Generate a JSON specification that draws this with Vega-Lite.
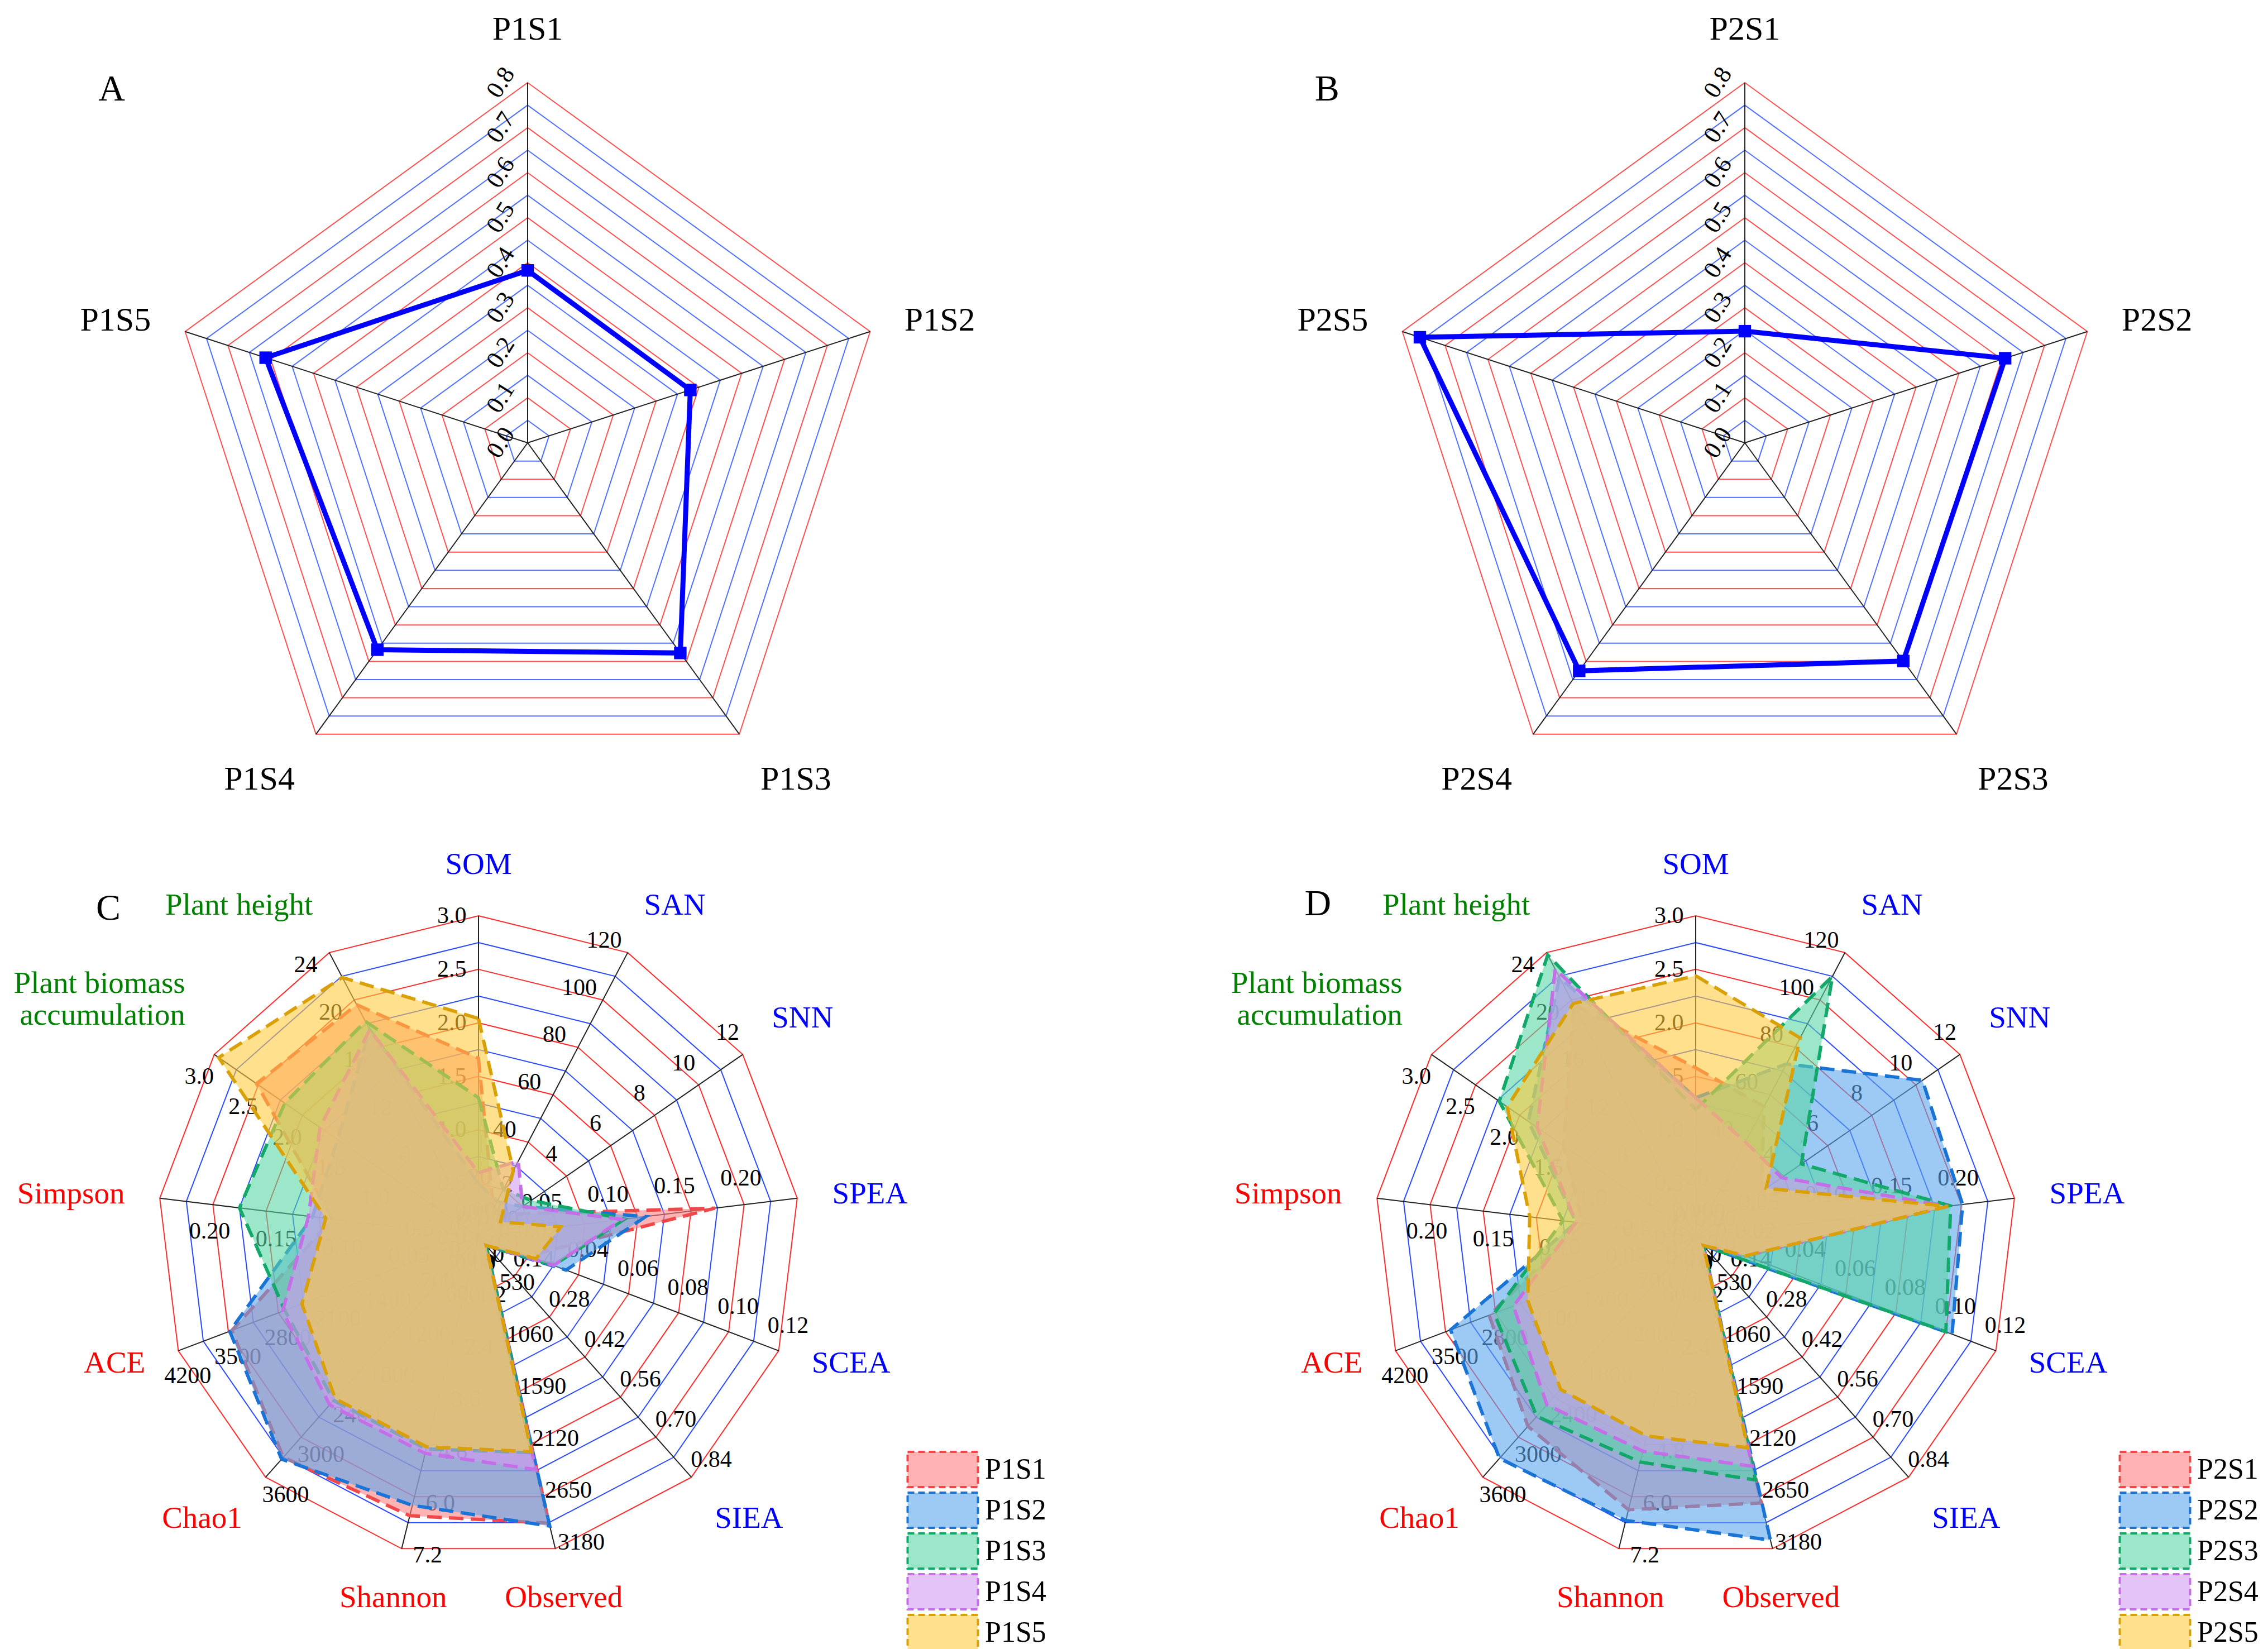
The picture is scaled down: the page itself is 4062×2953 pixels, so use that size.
{
"$schema":"https://vega.github.io/schema/vega-lite/v6.json",
"background":"white",
"padding":0,
"config":{"view":{"stroke":null},"text":{"font":"Liberation Serif"},"legend":{"labelFont":"Liberation Serif"}},
"datasets":{
"ringsPent":[{"lev":0.05,"k":[0,1,2,3,4]},{"lev":0.1,"k":[0,1,2,3,4]},{"lev":0.15,"k":[0,1,2,3,4]},{"lev":0.2,"k":[0,1,2,3,4]},{"lev":0.25,"k":[0,1,2,3,4]},{"lev":0.3,"k":[0,1,2,3,4]},{"lev":0.35,"k":[0,1,2,3,4]},{"lev":0.4,"k":[0,1,2,3,4]},{"lev":0.45,"k":[0,1,2,3,4]},{"lev":0.5,"k":[0,1,2,3,4]},{"lev":0.55,"k":[0,1,2,3,4]},{"lev":0.6,"k":[0,1,2,3,4]},{"lev":0.65,"k":[0,1,2,3,4]},{"lev":0.7,"k":[0,1,2,3,4]},{"lev":0.75,"k":[0,1,2,3,4]},{"lev":0.8,"k":[0,1,2,3,4]}],
"ticksPent":[{"v":0,"t":"0.0"},{"v":0.1,"t":"0.1"},{"v":0.2,"t":"0.2"},{"v":0.3,"t":"0.3"},{"v":0.4,"t":"0.4"},{"v":0.5,"t":"0.5"},{"v":0.6,"t":"0.6"},{"v":0.7,"t":"0.7"},{"v":0.8,"t":"0.8"}],
"A":[{"name":"P1S1","k":0,"value":0.383},{"name":"P1S2","k":1,"value":0.38},{"name":"P1S3","k":2,"value":0.577},{"name":"P1S4","k":3,"value":0.568},{"name":"P1S5","k":4,"value":0.612}],
"B":[{"name":"P2S1","k":0,"value":0.248},{"name":"P2S2","k":1,"value":0.608},{"name":"P2S3","k":2,"value":0.599},{"name":"P2S4","k":3,"value":0.626},{"name":"P2S5","k":4,"value":0.759}],
"ringsC":[{"j":1,"k":[0,1,2,3,4,5,6,7,8,9,10,11,12]},{"j":2,"k":[0,1,2,3,4,5,6,7,8,9,10,11,12]},{"j":3,"k":[0,1,2,3,4,5,6,7,8,9,10,11,12]},{"j":4,"k":[0,1,2,3,4,5,6,7,8,9,10,11,12]},{"j":5,"k":[0,1,2,3,4,5,6,7,8,9,10,11,12]},{"j":6,"k":[0,1,2,3,4,5,6,7,8,9,10,11,12]},{"j":7,"k":[0,1,2,3,4,5,6,7,8,9,10,11,12]},{"j":8,"k":[0,1,2,3,4,5,6,7,8,9,10,11,12]},{"j":9,"k":[0,1,2,3,4,5,6,7,8,9,10,11,12]},{"j":10,"k":[0,1,2,3,4,5,6,7,8,9,10,11,12]},{"j":11,"k":[0,1,2,3,4,5,6,7,8,9,10,11,12]},{"j":12,"k":[0,1,2,3,4,5,6,7,8,9,10,11,12]}],
"axesC":[
{"k":0,"name":"SOM","grp":"soil","max":3,"ticks":[0,0.5,1,1.5,2,2.5,3],"tl":["0.0","0.5","1.0","1.5","2.0","2.5","3.0"]},
{"k":1,"name":"SAN","grp":"soil","max":120,"ticks":[0,20,40,60,80,100,120],"tl":["0","20","40","60","80","100","120"]},
{"k":2,"name":"SNN","grp":"soil","max":12,"ticks":[0,2,4,6,8,10,12],"tl":["0","2","4","6","8","10","12"]},
{"k":3,"name":"SPEA","grp":"soil","max":0.24,"ticks":[0,0.05,0.1,0.15,0.2],"tl":["0.00","0.05","0.10","0.15","0.20"]},
{"k":4,"name":"SCEA","grp":"soil","max":0.12,"ticks":[0,0.02,0.04,0.06,0.08,0.1,0.12],"tl":["0.00","0.02","0.04","0.06","0.08","0.10","0.12"]},
{"k":5,"name":"SIEA","grp":"soil","max":0.84,"ticks":[0,0.14,0.28,0.42,0.56,0.7,0.84],"tl":["0.00","0.14","0.28","0.42","0.56","0.70","0.84"]},
{"k":6,"name":"Observed","grp":"micro","max":3180,"ticks":[0,530,1060,1590,2120,2650,3180],"tl":["0","530","1060","1590","2120","2650","3180"]},
{"k":7,"name":"Shannon","grp":"micro","max":7.2,"ticks":[0,1.2,2.4,3.6,4.8,6,7.2],"tl":["0.0","1.2","2.4","3.6","4.8","6.0","7.2"]},
{"k":8,"name":"Chao1","grp":"micro","max":3600,"ticks":[0,600,1200,1800,2400,3000,3600],"tl":["0","600","1200","1800","2400","3000","3600"]},
{"k":9,"name":"ACE","grp":"micro","max":4200,"ticks":[0,700,1400,2100,2800,3500,4200],"tl":["0","700","1400","2100","2800","3500","4200"]},
{"k":10,"name":"Simpson","grp":"micro","max":0.24,"ticks":[0,0.05,0.1,0.15,0.2],"tl":["0.00","0.05","0.10","0.15","0.20"]},
{"k":11,"name":"Plant biomass\naccumulation","grp":"plant","max":3,"ticks":[0,0.5,1,1.5,2,2.5,3],"tl":["0.0","0.5","1.0","1.5","2.0","2.5","3.0"]},
{"k":12,"name":"Plant height","grp":"plant","max":24,"ticks":[0,4,8,12,16,20,24],"tl":["0","4","8","12","16","20","24"]}],
"C":[
{"s":"P1S1","k":0,"v":1.67},{"s":"P1S1","k":1,"v":12},{"s":"P1S1","k":2,"v":1.5},{"s":"P1S1","k":3,"v":0.178},{"s":"P1S1","k":4,"v":0.02},{"s":"P1S1","k":5,"v":0.03},{"s":"P1S1","k":6,"v":2920},{"s":"P1S1","k":7,"v":6.44},{"s":"P1S1","k":8,"v":3300},{"s":"P1S1","k":9,"v":3450},{"s":"P1S1","k":10,"v":0.11},{"s":"P1S1","k":11,"v":2.52},{"s":"P1S1","k":12,"v":19.6},
{"s":"P1S2","k":0,"v":0.5},{"s":"P1S2","k":1,"v":15},{"s":"P1S2","k":2,"v":2.0},{"s":"P1S2","k":3,"v":0.126},{"s":"P1S2","k":4,"v":0.035},{"s":"P1S2","k":5,"v":0.03},{"s":"P1S2","k":6,"v":2950},{"s":"P1S2","k":7,"v":6.2},{"s":"P1S2","k":8,"v":3330},{"s":"P1S2","k":9,"v":3480},{"s":"P1S2","k":10,"v":0.125},{"s":"P1S2","k":11,"v":1.6},{"s":"P1S2","k":12,"v":17.5},
{"s":"P1S3","k":0,"v":1.3},{"s":"P1S3","k":1,"v":20},{"s":"P1S3","k":2,"v":2.4},{"s":"P1S3","k":3,"v":0.11},{"s":"P1S3","k":4,"v":0.03},{"s":"P1S3","k":5,"v":0.03},{"s":"P1S3","k":6,"v":2200},{"s":"P1S3","k":7,"v":4.9},{"s":"P1S3","k":8,"v":2450},{"s":"P1S3","k":9,"v":2710},{"s":"P1S3","k":10,"v":0.18},{"s":"P1S3","k":11,"v":2.2},{"s":"P1S3","k":12,"v":18.2},
{"s":"P1S4","k":0,"v":0.6},{"s":"P1S4","k":1,"v":32},{"s":"P1S4","k":2,"v":2.0},{"s":"P1S4","k":3,"v":0.108},{"s":"P1S4","k":4,"v":0.03},{"s":"P1S4","k":5,"v":0.03},{"s":"P1S4","k":6,"v":2374},{"s":"P1S4","k":7,"v":5.0},{"s":"P1S4","k":8,"v":2517},{"s":"P1S4","k":9,"v":2740},{"s":"P1S4","k":10,"v":0.128},{"s":"P1S4","k":11,"v":1.8},{"s":"P1S4","k":12,"v":17.5},
{"s":"P1S5","k":0,"v":2.04},{"s":"P1S5","k":1,"v":28},{"s":"P1S5","k":2,"v":1.0},{"s":"P1S5","k":3,"v":0.062},{"s":"P1S5","k":4,"v":0.023},{"s":"P1S5","k":5,"v":0.03},{"s":"P1S5","k":6,"v":2190},{"s":"P1S5","k":7,"v":4.85},{"s":"P1S5","k":8,"v":2423},{"s":"P1S5","k":9,"v":2470},{"s":"P1S5","k":10,"v":0.115},{"s":"P1S5","k":11,"v":2.95},{"s":"P1S5","k":12,"v":21.9}],
"D":[
{"s":"P2S1","k":0,"v":1.58},{"s":"P2S1","k":1,"v":55},{"s":"P2S1","k":2,"v":3.0},{"s":"P2S1","k":3,"v":0.185},{"s":"P2S1","k":4,"v":0.02},{"s":"P2S1","k":5,"v":0.03},{"s":"P2S1","k":6,"v":2714},{"s":"P2S1","k":7,"v":6.3},{"s":"P2S1","k":8,"v":2838},{"s":"P2S1","k":9,"v":2890},{"s":"P2S1","k":10,"v":0.085},{"s":"P2S1","k":11,"v":1.5},{"s":"P2S1","k":12,"v":19.6},
{"s":"P2S2","k":0,"v":1.3},{"s":"P2S2","k":1,"v":73},{"s":"P2S2","k":2,"v":10.3},{"s":"P2S2","k":3,"v":0.201},{"s":"P2S2","k":4,"v":0.1025},{"s":"P2S2","k":5,"v":0.03},{"s":"P2S2","k":6,"v":3093},{"s":"P2S2","k":7,"v":6.55},{"s":"P2S2","k":8,"v":3318},{"s":"P2S2","k":9,"v":3430},{"s":"P2S2","k":10,"v":0.09},{"s":"P2S2","k":11,"v":1.9},{"s":"P2S2","k":12,"v":21.9},
{"s":"P2S3","k":0,"v":1.19},{"s":"P2S3","k":1,"v":110},{"s":"P2S3","k":2,"v":4.8},{"s":"P2S3","k":3,"v":0.192},{"s":"P2S3","k":4,"v":0.1},{"s":"P2S3","k":5,"v":0.03},{"s":"P2S3","k":6,"v":2480},{"s":"P2S3","k":7,"v":5.2},{"s":"P2S3","k":8,"v":2688},{"s":"P2S3","k":9,"v":2820},{"s":"P2S3","k":10,"v":0.1},{"s":"P2S3","k":11,"v":2.23},{"s":"P2S3","k":12,"v":23.8},
{"s":"P2S4","k":0,"v":1.3},{"s":"P2S4","k":1,"v":40},{"s":"P2S4","k":2,"v":3.9},{"s":"P2S4","k":3,"v":0.19},{"s":"P2S4","k":4,"v":0.02},{"s":"P2S4","k":5,"v":0.03},{"s":"P2S4","k":6,"v":2340},{"s":"P2S4","k":7,"v":4.95},{"s":"P2S4","k":8,"v":2516},{"s":"P2S4","k":9,"v":2550},{"s":"P2S4","k":10,"v":0.09},{"s":"P2S4","k":11,"v":1.8},{"s":"P2S4","k":12,"v":22.6},
{"s":"P2S5","k":0,"v":2.44},{"s":"P2S5","k":1,"v":84},{"s":"P2S5","k":2,"v":3.2},{"s":"P2S5","k":3,"v":0.19},{"s":"P2S5","k":4,"v":0.02},{"s":"P2S5","k":5,"v":0.03},{"s":"P2S5","k":6,"v":2150},{"s":"P2S5","k":7,"v":4.6},{"s":"P2S5","k":8,"v":2285},{"s":"P2S5","k":9,"v":2350},{"s":"P2S5","k":10,"v":0.125},{"s":"P2S5","k":11,"v":2.14},{"s":"P2S5","k":12,"v":19.7}]
},
"columns":2,
"spacing":0,
"bounds":"flush",
"resolve":{"scale":{"x":"independent","y":"independent","fill":"independent","stroke":"independent"}},
"concat":[
{"width":2031,"height":1480,
"layer":[
{"data":{"name":"ringsPent"},"transform":[{"flatten":["k"]},{"filter":"round(datum.lev*20)%2==0"},{"calculate":"2*PI*datum.k/5","as":"th"},{"calculate":"datum.lev/0.8*sin(datum.th)","as":"x"},{"calculate":"datum.lev/0.8*cos(datum.th)","as":"y"}],
"mark":{"type":"line","interpolate":"linear-closed","stroke":"#FF5050","strokeWidth":2},
"encoding":{"x":{"field":"x","type":"quantitative","scale":{"domain":[-1.4651,1.6837],"nice":false,"zero":false},"axis":null},"y":{"field":"y","type":"quantitative","scale":{"domain":[-1.0651,1.2295],"nice":false,"zero":false},"axis":null},"detail":{"field":"lev","type":"nominal"},"order":{"field":"k","type":"quantitative"}}},
{"data":{"name":"ringsPent"},"transform":[{"flatten":["k"]},{"filter":"round(datum.lev*20)%2==1"},{"calculate":"2*PI*datum.k/5","as":"th"},{"calculate":"datum.lev/0.8*sin(datum.th)","as":"x"},{"calculate":"datum.lev/0.8*cos(datum.th)","as":"y"}],
"mark":{"type":"line","interpolate":"linear-closed","stroke":"#5070FF","strokeWidth":2},
"encoding":{"x":{"field":"x","type":"quantitative","scale":{"domain":[-1.4651,1.6837],"nice":false,"zero":false},"axis":null},"y":{"field":"y","type":"quantitative","scale":{"domain":[-1.0651,1.2295],"nice":false,"zero":false},"axis":null},"detail":{"field":"lev","type":"nominal"},"order":{"field":"k","type":"quantitative"}}},
{"data":{"name":"A"},"transform":[{"calculate":"2*PI*datum.k/5","as":"th"},{"calculate":"sin(datum.th)","as":"x"},{"calculate":"cos(datum.th)","as":"y"}],
"mark":{"type":"rule","stroke":"#222222","strokeWidth":2},
"encoding":{"x":{"field":"x","type":"quantitative","scale":{"domain":[-1.4651,1.6837],"nice":false,"zero":false},"axis":null},"y":{"field":"y","type":"quantitative","scale":{"domain":[-1.0651,1.2295],"nice":false,"zero":false},"axis":null},"x2":{"datum":0},"y2":{"datum":0}}},
{"data":{"name":"ticksPent"},"transform":[{"calculate":"datum.v/0.8","as":"y"}],
"mark":{"type":"text","angle":-58,"fontSize":44,"color":"#000000","align":"center","baseline":"middle"},
"encoding":{"x":{"datum":-0.074,"type":"quantitative","scale":{"domain":[-1.4651,1.6837],"nice":false,"zero":false},"axis":null},"y":{"field":"y","type":"quantitative","scale":{"domain":[-1.0651,1.2295],"nice":false,"zero":false},"axis":null},"text":{"field":"t"}}},
{"data":{"name":"A"},"transform":[{"calculate":"2*PI*datum.k/5","as":"th"},{"calculate":"datum.value/0.8*sin(datum.th)","as":"x"},{"calculate":"datum.value/0.8*cos(datum.th)","as":"y"}],
"mark":{"type":"line","interpolate":"linear-closed","stroke":"#0000FF","strokeWidth":9},
"encoding":{"x":{"field":"x","type":"quantitative","scale":{"domain":[-1.4651,1.6837],"nice":false,"zero":false},"axis":null},"y":{"field":"y","type":"quantitative","scale":{"domain":[-1.0651,1.2295],"nice":false,"zero":false},"axis":null},"order":{"field":"k","type":"quantitative"}}},
{"data":{"name":"A"},"transform":[{"calculate":"2*PI*datum.k/5","as":"th"},{"calculate":"datum.value/0.8*sin(datum.th)","as":"x"},{"calculate":"datum.value/0.8*cos(datum.th)","as":"y"}],
"mark":{"type":"point","shape":"square","filled":true,"size":500,"color":"#0000FF","opacity":1},
"encoding":{"x":{"field":"x","type":"quantitative","scale":{"domain":[-1.4651,1.6837],"nice":false,"zero":false},"axis":null},"y":{"field":"y","type":"quantitative","scale":{"domain":[-1.0651,1.2295],"nice":false,"zero":false},"axis":null}}},
{"data":{"name":"A"},"transform":[{"calculate":"2*PI*datum.k/5","as":"th"},{"calculate":"sin(datum.th)","as":"s"},{"calculate":"cos(datum.th)","as":"c"},{"calculate":"1.1*datum.s","as":"x"},{"calculate":"1.1*datum.c","as":"y"}],
"mark":{"type":"text","fontSize":60,"color":"#000000","align":{"expr":"datum.s > 0.3 ? 'left' : (datum.s < -0.3 ? 'right' : 'center')"},"baseline":{"expr":"datum.c > 0.5 ? 'bottom' : (datum.c < -0.5 ? 'top' : 'middle')"}},
"encoding":{"x":{"field":"x","type":"quantitative","scale":{"domain":[-1.4651,1.6837],"nice":false,"zero":false},"axis":null},"y":{"field":"y","type":"quantitative","scale":{"domain":[-1.0651,1.2295],"nice":false,"zero":false},"axis":null},"text":{"field":"name"}}},
{"data":{"values":[{"t":"A"}]},
"mark":{"type":"text","fontSize":66,"color":"#000000","align":"center","baseline":"middle"},
"encoding":{"x":{"datum":-1.155,"type":"quantitative","scale":{"domain":[-1.4651,1.6837],"nice":false,"zero":false},"axis":null},"y":{"datum":0.981,"type":"quantitative","scale":{"domain":[-1.0651,1.2295],"nice":false,"zero":false},"axis":null},"text":{"field":"t"}}}
]},
{"width":2031,"height":1480,
"layer":[
{"data":{"name":"ringsPent"},"transform":[{"flatten":["k"]},{"filter":"round(datum.lev*20)%2==0"},{"calculate":"2*PI*datum.k/5","as":"th"},{"calculate":"datum.lev/0.8*sin(datum.th)","as":"x"},{"calculate":"datum.lev/0.8*cos(datum.th)","as":"y"}],
"mark":{"type":"line","interpolate":"linear-closed","stroke":"#FF5050","strokeWidth":2},
"encoding":{"x":{"field":"x","type":"quantitative","scale":{"domain":[-1.6961,1.4527],"nice":false,"zero":false},"axis":null},"y":{"field":"y","type":"quantitative","scale":{"domain":[-1.0651,1.2295],"nice":false,"zero":false},"axis":null},"detail":{"field":"lev","type":"nominal"},"order":{"field":"k","type":"quantitative"}}},
{"data":{"name":"ringsPent"},"transform":[{"flatten":["k"]},{"filter":"round(datum.lev*20)%2==1"},{"calculate":"2*PI*datum.k/5","as":"th"},{"calculate":"datum.lev/0.8*sin(datum.th)","as":"x"},{"calculate":"datum.lev/0.8*cos(datum.th)","as":"y"}],
"mark":{"type":"line","interpolate":"linear-closed","stroke":"#5070FF","strokeWidth":2},
"encoding":{"x":{"field":"x","type":"quantitative","scale":{"domain":[-1.6961,1.4527],"nice":false,"zero":false},"axis":null},"y":{"field":"y","type":"quantitative","scale":{"domain":[-1.0651,1.2295],"nice":false,"zero":false},"axis":null},"detail":{"field":"lev","type":"nominal"},"order":{"field":"k","type":"quantitative"}}},
{"data":{"name":"B"},"transform":[{"calculate":"2*PI*datum.k/5","as":"th"},{"calculate":"sin(datum.th)","as":"x"},{"calculate":"cos(datum.th)","as":"y"}],
"mark":{"type":"rule","stroke":"#222222","strokeWidth":2},
"encoding":{"x":{"field":"x","type":"quantitative","scale":{"domain":[-1.6961,1.4527],"nice":false,"zero":false},"axis":null},"y":{"field":"y","type":"quantitative","scale":{"domain":[-1.0651,1.2295],"nice":false,"zero":false},"axis":null},"x2":{"datum":0},"y2":{"datum":0}}},
{"data":{"name":"ticksPent"},"transform":[{"calculate":"datum.v/0.8","as":"y"}],
"mark":{"type":"text","angle":-58,"fontSize":44,"color":"#000000","align":"center","baseline":"middle"},
"encoding":{"x":{"datum":-0.074,"type":"quantitative","scale":{"domain":[-1.6961,1.4527],"nice":false,"zero":false},"axis":null},"y":{"field":"y","type":"quantitative","scale":{"domain":[-1.0651,1.2295],"nice":false,"zero":false},"axis":null},"text":{"field":"t"}}},
{"data":{"name":"B"},"transform":[{"calculate":"2*PI*datum.k/5","as":"th"},{"calculate":"datum.value/0.8*sin(datum.th)","as":"x"},{"calculate":"datum.value/0.8*cos(datum.th)","as":"y"}],
"mark":{"type":"line","interpolate":"linear-closed","stroke":"#0000FF","strokeWidth":9},
"encoding":{"x":{"field":"x","type":"quantitative","scale":{"domain":[-1.6961,1.4527],"nice":false,"zero":false},"axis":null},"y":{"field":"y","type":"quantitative","scale":{"domain":[-1.0651,1.2295],"nice":false,"zero":false},"axis":null},"order":{"field":"k","type":"quantitative"}}},
{"data":{"name":"B"},"transform":[{"calculate":"2*PI*datum.k/5","as":"th"},{"calculate":"datum.value/0.8*sin(datum.th)","as":"x"},{"calculate":"datum.value/0.8*cos(datum.th)","as":"y"}],
"mark":{"type":"point","shape":"square","filled":true,"size":500,"color":"#0000FF","opacity":1},
"encoding":{"x":{"field":"x","type":"quantitative","scale":{"domain":[-1.6961,1.4527],"nice":false,"zero":false},"axis":null},"y":{"field":"y","type":"quantitative","scale":{"domain":[-1.0651,1.2295],"nice":false,"zero":false},"axis":null}}},
{"data":{"name":"B"},"transform":[{"calculate":"2*PI*datum.k/5","as":"th"},{"calculate":"sin(datum.th)","as":"s"},{"calculate":"cos(datum.th)","as":"c"},{"calculate":"1.1*datum.s","as":"x"},{"calculate":"1.1*datum.c","as":"y"}],
"mark":{"type":"text","fontSize":60,"color":"#000000","align":{"expr":"datum.s > 0.3 ? 'left' : (datum.s < -0.3 ? 'right' : 'center')"},"baseline":{"expr":"datum.c > 0.5 ? 'bottom' : (datum.c < -0.5 ? 'top' : 'middle')"}},
"encoding":{"x":{"field":"x","type":"quantitative","scale":{"domain":[-1.6961,1.4527],"nice":false,"zero":false},"axis":null},"y":{"field":"y","type":"quantitative","scale":{"domain":[-1.0651,1.2295],"nice":false,"zero":false},"axis":null},"text":{"field":"name"}}},
{"data":{"values":[{"t":"B"}]},
"mark":{"type":"text","fontSize":66,"color":"#000000","align":"center","baseline":"middle"},
"encoding":{"x":{"datum":-1.16,"type":"quantitative","scale":{"domain":[-1.6961,1.4527],"nice":false,"zero":false},"axis":null},"y":{"datum":0.981,"type":"quantitative","scale":{"domain":[-1.0651,1.2295],"nice":false,"zero":false},"axis":null},"text":{"field":"t"}}}
]},
{"width":2031,"height":1473,
"layer":[
{"data":{"name":"ringsC"},"transform":[{"flatten":["k"]},{"filter":"datum.j%2==0"},{"calculate":"2*PI*datum.k/13","as":"th"},{"calculate":"datum.j/12*sin(datum.th)","as":"x"},{"calculate":"datum.j/12*cos(datum.th)","as":"y"}],
"mark":{"type":"line","interpolate":"linear-closed","stroke":"#FF2A2A","strokeWidth":2},
"encoding":{"x":{"field":"x","type":"quantitative","scale":{"domain":[-1.4904,2.0417],"nice":false,"zero":false},"axis":null},"y":{"field":"y","type":"quantitative","scale":{"domain":[-1.2835,1.2783],"nice":false,"zero":false},"axis":null},"detail":{"field":"j","type":"nominal"},"order":{"field":"k","type":"quantitative"}}},
{"data":{"name":"ringsC"},"transform":[{"flatten":["k"]},{"filter":"datum.j%2==1"},{"calculate":"2*PI*datum.k/13","as":"th"},{"calculate":"datum.j/12*sin(datum.th)","as":"x"},{"calculate":"datum.j/12*cos(datum.th)","as":"y"}],
"mark":{"type":"line","interpolate":"linear-closed","stroke":"#2A4AFF","strokeWidth":2},
"encoding":{"x":{"field":"x","type":"quantitative","scale":{"domain":[-1.4904,2.0417],"nice":false,"zero":false},"axis":null},"y":{"field":"y","type":"quantitative","scale":{"domain":[-1.2835,1.2783],"nice":false,"zero":false},"axis":null},"detail":{"field":"j","type":"nominal"},"order":{"field":"k","type":"quantitative"}}},
{"data":{"name":"axesC"},"transform":[{"calculate":"2*PI*datum.k/13","as":"th"},{"calculate":"sin(datum.th)","as":"x"},{"calculate":"cos(datum.th)","as":"y"}],
"mark":{"type":"rule","stroke":"#222222","strokeWidth":2},
"encoding":{"x":{"field":"x","type":"quantitative","scale":{"domain":[-1.4904,2.0417],"nice":false,"zero":false},"axis":null},"y":{"field":"y","type":"quantitative","scale":{"domain":[-1.2835,1.2783],"nice":false,"zero":false},"axis":null},"x2":{"datum":0},"y2":{"datum":0}}},
{"data":{"name":"axesC"},"transform":[{"flatten":["ticks","tl"]},{"calculate":"2*PI*datum.k/13","as":"th"},{"calculate":"datum.ticks/datum.max","as":"r"},{"calculate":"datum.r*sin(datum.th)-0.083*cos(datum.th)","as":"x"},{"calculate":"datum.r*cos(datum.th)+0.083*sin(datum.th)","as":"y"}],
"mark":{"type":"text","fontSize":42,"color":"#000000","align":"center","baseline":"middle"},
"encoding":{"x":{"field":"x","type":"quantitative","scale":{"domain":[-1.4904,2.0417],"nice":false,"zero":false},"axis":null},"y":{"field":"y","type":"quantitative","scale":{"domain":[-1.2835,1.2783],"nice":false,"zero":false},"axis":null},"text":{"field":"tl"}}},
{"data":{"name":"C"},"transform":[{"lookup":"k","from":{"data":{"name":"axesC"},"key":"k","fields":["max"]}},{"calculate":"2*PI*datum.k/13","as":"th"},{"calculate":"datum.v/datum.max*sin(datum.th)","as":"x"},{"calculate":"datum.v/datum.max*cos(datum.th)","as":"y"}],
"mark":{"type":"line","interpolate":"linear-closed","fillOpacity":0.6,"strokeWidth":6,"strokeDash":[26,13]},
"encoding":{"x":{"field":"x","type":"quantitative","scale":{"domain":[-1.4904,2.0417],"nice":false,"zero":false},"axis":null},"y":{"field":"y","type":"quantitative","scale":{"domain":[-1.2835,1.2783],"nice":false,"zero":false},"axis":null},"order":{"field":"k","type":"quantitative"},
"fill":{"field":"s","type":"nominal","scale":{"domain":["P1S1","P1S2","P1S3","P1S4","P1S5"],"range":["#FF8080","#5BA5EE","#5AD6A6","#D29BF0","#FFCC40"]},"legend":{"title":null,"orient":"none","legendX":1655,"legendY":1118,"symbolType":"M-2,-1H2V1H-2Z","symbolSize":3969,"symbolFillColor":"#ffffff","symbolStrokeWidth":4,"symbolDash":[12,7],"labelFontSize":52,"labelFont":"Liberation Serif","labelOffset":42,"rowPadding":-13,"padding":0,"encode":{"symbols":{"update":{"fillOpacity":{"value":0.6}}}}}},
"stroke":{"field":"s","type":"nominal","scale":{"domain":["P1S1","P1S2","P1S3","P1S4","P1S5"],"range":["#F04848","#1A74D6","#11A86A","#C46FE8","#D9A008"]},"legend":{"title":null,"orient":"none","legendX":1655,"legendY":1118,"symbolType":"M-2,-1H2V1H-2Z","symbolSize":3969,"symbolFillColor":"#ffffff","symbolStrokeWidth":4,"symbolDash":[12,7],"labelFontSize":52,"labelFont":"Liberation Serif","labelOffset":42,"rowPadding":-13,"padding":0,"encode":{"symbols":{"update":{"fillOpacity":{"value":0.6}}}}}}}},
{"data":{"name":"axesC"},"transform":[{"calculate":"2*PI*datum.k/13","as":"th"},{"calculate":"sin(datum.th)","as":"s"},{"calculate":"cos(datum.th)","as":"c"},{"calculate":"1.11*datum.s","as":"x"},{"calculate":"1.11*datum.c","as":"y"}],
"mark":{"type":"text","fontSize":55,"lineBreak":"\n","dy":{"expr":"indexof(datum.name,'\\n') >= 0 ? -62 : 0"},"align":{"expr":"datum.s > 0.3 ? 'left' : (datum.s < -0.3 ? 'right' : 'center')"},"baseline":{"expr":"datum.c > 0.5 ? 'bottom' : (datum.c < -0.5 ? 'top' : 'middle')"}},
"encoding":{"x":{"field":"x","type":"quantitative","scale":{"domain":[-1.4904,2.0417],"nice":false,"zero":false},"axis":null},"y":{"field":"y","type":"quantitative","scale":{"domain":[-1.2835,1.2783],"nice":false,"zero":false},"axis":null},"text":{"field":"name"},
"color":{"condition":[{"test":"datum.grp=='soil'","value":"#0000FF"},{"test":"datum.grp=='micro'","value":"#FF0000"}],"value":"#008000"}}},
{"data":{"values":[{"t":"C"}]},
"mark":{"type":"text","fontSize":66,"color":"#000000","align":"center","baseline":"middle"},
"encoding":{"x":{"datum":-1.153,"type":"quantitative","scale":{"domain":[-1.4904,2.0417],"nice":false,"zero":false},"axis":null},"y":{"datum":1.023,"type":"quantitative","scale":{"domain":[-1.2835,1.2783],"nice":false,"zero":false},"axis":null},"text":{"field":"t"}}}
]},
{"width":2031,"height":1473,
"layer":[
{"data":{"name":"ringsC"},"transform":[{"flatten":["k"]},{"filter":"datum.j%2==0"},{"calculate":"2*PI*datum.k/13","as":"th"},{"calculate":"datum.j/12*sin(datum.th)","as":"x"},{"calculate":"datum.j/12*cos(datum.th)","as":"y"}],
"mark":{"type":"line","interpolate":"linear-closed","stroke":"#FF2A2A","strokeWidth":2},
"encoding":{"x":{"field":"x","type":"quantitative","scale":{"domain":[-1.7496,1.7826],"nice":false,"zero":false},"axis":null},"y":{"field":"y","type":"quantitative","scale":{"domain":[-1.2835,1.2783],"nice":false,"zero":false},"axis":null},"detail":{"field":"j","type":"nominal"},"order":{"field":"k","type":"quantitative"}}},
{"data":{"name":"ringsC"},"transform":[{"flatten":["k"]},{"filter":"datum.j%2==1"},{"calculate":"2*PI*datum.k/13","as":"th"},{"calculate":"datum.j/12*sin(datum.th)","as":"x"},{"calculate":"datum.j/12*cos(datum.th)","as":"y"}],
"mark":{"type":"line","interpolate":"linear-closed","stroke":"#2A4AFF","strokeWidth":2},
"encoding":{"x":{"field":"x","type":"quantitative","scale":{"domain":[-1.7496,1.7826],"nice":false,"zero":false},"axis":null},"y":{"field":"y","type":"quantitative","scale":{"domain":[-1.2835,1.2783],"nice":false,"zero":false},"axis":null},"detail":{"field":"j","type":"nominal"},"order":{"field":"k","type":"quantitative"}}},
{"data":{"name":"axesC"},"transform":[{"calculate":"2*PI*datum.k/13","as":"th"},{"calculate":"sin(datum.th)","as":"x"},{"calculate":"cos(datum.th)","as":"y"}],
"mark":{"type":"rule","stroke":"#222222","strokeWidth":2},
"encoding":{"x":{"field":"x","type":"quantitative","scale":{"domain":[-1.7496,1.7826],"nice":false,"zero":false},"axis":null},"y":{"field":"y","type":"quantitative","scale":{"domain":[-1.2835,1.2783],"nice":false,"zero":false},"axis":null},"x2":{"datum":0},"y2":{"datum":0}}},
{"data":{"name":"axesC"},"transform":[{"flatten":["ticks","tl"]},{"calculate":"2*PI*datum.k/13","as":"th"},{"calculate":"datum.ticks/datum.max","as":"r"},{"calculate":"datum.r*sin(datum.th)-0.083*cos(datum.th)","as":"x"},{"calculate":"datum.r*cos(datum.th)+0.083*sin(datum.th)","as":"y"}],
"mark":{"type":"text","fontSize":42,"color":"#000000","align":"center","baseline":"middle"},
"encoding":{"x":{"field":"x","type":"quantitative","scale":{"domain":[-1.7496,1.7826],"nice":false,"zero":false},"axis":null},"y":{"field":"y","type":"quantitative","scale":{"domain":[-1.2835,1.2783],"nice":false,"zero":false},"axis":null},"text":{"field":"tl"}}},
{"data":{"name":"D"},"transform":[{"lookup":"k","from":{"data":{"name":"axesC"},"key":"k","fields":["max"]}},{"calculate":"2*PI*datum.k/13","as":"th"},{"calculate":"datum.v/datum.max*sin(datum.th)","as":"x"},{"calculate":"datum.v/datum.max*cos(datum.th)","as":"y"}],
"mark":{"type":"line","interpolate":"linear-closed","fillOpacity":0.6,"strokeWidth":6,"strokeDash":[26,13]},
"encoding":{"x":{"field":"x","type":"quantitative","scale":{"domain":[-1.7496,1.7826],"nice":false,"zero":false},"axis":null},"y":{"field":"y","type":"quantitative","scale":{"domain":[-1.2835,1.2783],"nice":false,"zero":false},"axis":null},"order":{"field":"k","type":"quantitative"},
"fill":{"field":"s","type":"nominal","scale":{"domain":["P2S1","P2S2","P2S3","P2S4","P2S5"],"range":["#FF8080","#5BA5EE","#5AD6A6","#D29BF0","#FFCC40"]},"legend":{"title":null,"orient":"none","legendX":1795,"legendY":1118,"symbolType":"M-2,-1H2V1H-2Z","symbolSize":3969,"symbolFillColor":"#ffffff","symbolStrokeWidth":4,"symbolDash":[12,7],"labelFontSize":52,"labelFont":"Liberation Serif","labelOffset":42,"rowPadding":-13,"padding":0,"encode":{"symbols":{"update":{"fillOpacity":{"value":0.6}}}}}},
"stroke":{"field":"s","type":"nominal","scale":{"domain":["P2S1","P2S2","P2S3","P2S4","P2S5"],"range":["#F04848","#1A74D6","#11A86A","#C46FE8","#D9A008"]},"legend":{"title":null,"orient":"none","legendX":1795,"legendY":1118,"symbolType":"M-2,-1H2V1H-2Z","symbolSize":3969,"symbolFillColor":"#ffffff","symbolStrokeWidth":4,"symbolDash":[12,7],"labelFontSize":52,"labelFont":"Liberation Serif","labelOffset":42,"rowPadding":-13,"padding":0,"encode":{"symbols":{"update":{"fillOpacity":{"value":0.6}}}}}}}},
{"data":{"name":"axesC"},"transform":[{"calculate":"2*PI*datum.k/13","as":"th"},{"calculate":"sin(datum.th)","as":"s"},{"calculate":"cos(datum.th)","as":"c"},{"calculate":"1.11*datum.s","as":"x"},{"calculate":"1.11*datum.c","as":"y"}],
"mark":{"type":"text","fontSize":55,"lineBreak":"\n","dy":{"expr":"indexof(datum.name,'\\n') >= 0 ? -62 : 0"},"align":{"expr":"datum.s > 0.3 ? 'left' : (datum.s < -0.3 ? 'right' : 'center')"},"baseline":{"expr":"datum.c > 0.5 ? 'bottom' : (datum.c < -0.5 ? 'top' : 'middle')"}},
"encoding":{"x":{"field":"x","type":"quantitative","scale":{"domain":[-1.7496,1.7826],"nice":false,"zero":false},"axis":null},"y":{"field":"y","type":"quantitative","scale":{"domain":[-1.2835,1.2783],"nice":false,"zero":false},"axis":null},"text":{"field":"name"},
"color":{"condition":[{"test":"datum.grp=='soil'","value":"#0000FF"},{"test":"datum.grp=='micro'","value":"#FF0000"}],"value":"#008000"}}},
{"data":{"values":[{"t":"D"}]},
"mark":{"type":"text","fontSize":66,"color":"#000000","align":"center","baseline":"middle"},
"encoding":{"x":{"datum":-1.177,"type":"quantitative","scale":{"domain":[-1.7496,1.7826],"nice":false,"zero":false},"axis":null},"y":{"datum":1.037,"type":"quantitative","scale":{"domain":[-1.2835,1.2783],"nice":false,"zero":false},"axis":null},"text":{"field":"t"}}}
]}
]
}
